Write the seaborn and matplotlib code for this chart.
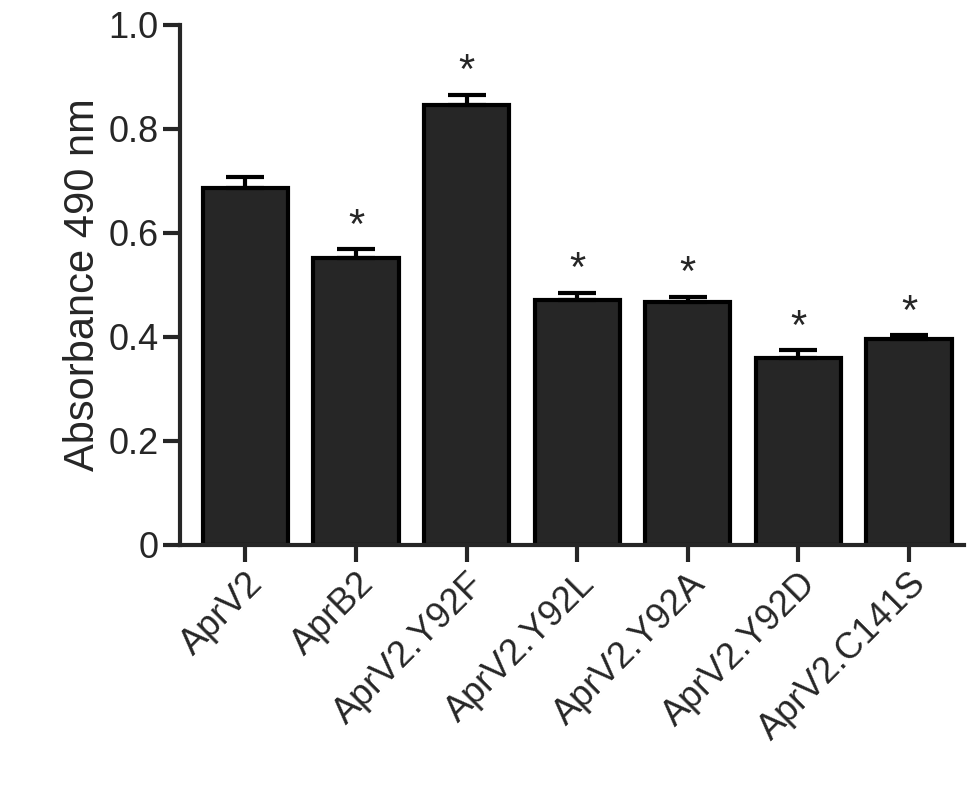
import seaborn as sns
import matplotlib.pyplot as plt

strains = ["AprV2", "AprB2", "AprV2.Y92F", "AprV2.Y92L", "AprV2.Y92A", "AprV2.Y92D", "AprV2.C141S"]
absorbance = [0.686, 0.552, 0.845, 0.471, 0.467, 0.360, 0.395]
sem = [0.022, 0.016, 0.020, 0.014, 0.010, 0.014, 0.008]
significant = [False, True, True, True, True, True, True]

sns.set_style("ticks")
plt.rcParams['font.family'] = ['Liberation Sans', 'DejaVu Sans']

fig = plt.figure(figsize=(9.74, 8), dpi=100)
ax = fig.add_axes([0.185, 0.319, 0.805, 0.65])

sns.barplot(x=strains, y=absorbance, color="#262626", edgecolor="black",
            linewidth=3, width=0.77, saturation=1, errorbar=None, ax=ax)
ax.errorbar(range(len(strains)), absorbance, yerr=[[0] * len(sem), sem],
            fmt="none", ecolor="black", elinewidth=3, capsize=14, capthick=3)

# significance stars
for i, (v, e, s) in enumerate(zip(absorbance, sem, significant)):
    if s:
        ax.text(i, v + e + 0.005, "*", ha="center", va="bottom", fontsize=30)

ax.set_ylim(0, 1.0)
ax.set_xlim(-0.59, 6.5)
ax.set_yticks([0, 0.2, 0.4, 0.6, 0.8, 1.0])
ax.set_yticklabels(["0", "0.2", "0.4", "0.6", "0.8", "1.0"])
ax.set_ylabel("Absorbance 490 nm", fontsize=30)
ax.tick_params(axis="both", labelsize=26, width=3, length=12)
plt.setp(ax.get_xticklabels(), rotation=45, ha="right", rotation_mode="anchor")
for side in ["left", "bottom"]:
    ax.spines[side].set_linewidth(3)
sns.despine(ax=ax)

fig.savefig("out.png", dpi=100)
